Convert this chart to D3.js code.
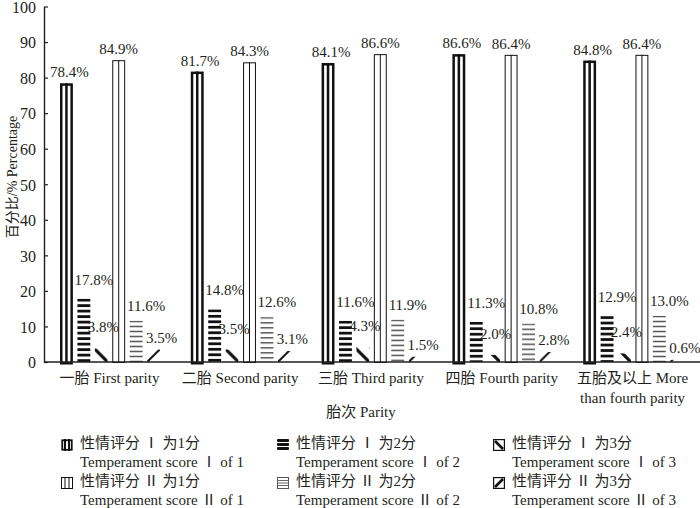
<!DOCTYPE html>
<html>
<head>
<meta charset="utf-8">
<script src="https://cdn.jsdelivr.net/npm/d3@7"></script>
<style>
body { margin: 0; background: #fff; }
svg text { font-family: "Liberation Serif", "Noto Sans CJK SC", serif; fill: #231f20; }
</style>
</head>
<body>
<svg id="chart" width="700" height="508"></svg>
<script>
// x categories, one entry per label line
const parityLabels = [
    ['一胎 First parity'],
    ['二胎 Second parity'],
    ['三胎 Third parity'],
    ['四胎 Fourth parity'],
    ['五胎及以上 More', 'than fourth parity']
];

// percentages per parity
const scoreI1 = [78.4, 81.7, 84.1, 86.6, 84.8];
const scoreI2 = [17.8, 14.8, 11.6, 11.3, 12.9];
const scoreI3 = [3.8, 3.5, 4.3, 2.0, 2.4];
const scoreII1 = [84.9, 84.3, 86.6, 86.4, 86.4];
const scoreII2 = [11.6, 12.6, 11.9, 10.8, 13.0];
const scoreII3 = [3.5, 3.1, 1.5, 2.8, 0.6];

const seriesZh = ['性情评分 Ⅰ 为1分', '性情评分 Ⅰ 为2分', '性情评分 Ⅰ 为3分',
    '性情评分 Ⅱ 为1分', '性情评分 Ⅱ 为2分', '性情评分 Ⅱ 为3分'];
const seriesEn = ['Temperament score Ⅰ of 1', 'Temperament score Ⅰ of 2', 'Temperament score Ⅰ of 3',
    'Temperament score Ⅱ of 1', 'Temperament score Ⅱ of 2', 'Temperament score Ⅱ of 3'];

const yTicks = [0, 10, 20, 30, 40, 50, 60, 70, 80, 90, 100];

// how each series is hatched
const styles = [
    { kind: 'v', w: 2.5 },
    { kind: 'h', w: 2.8, period: 5.5, color: '#111' },
    { kind: 'd', w: 3.2, dir: 'back' },
    { kind: 'v', w: 1 },
    { kind: 'h', w: 1.3, period: 5, color: '#3a3a3a' },
    { kind: 'd', w: 2, dir: 'fwd' }
];
const labelDx = [3, 10, 2, 0, 10, 8];
const labelDy = [-6, -14, -16, -6, -10, -7];

const series = [scoreI1, scoreI2, scoreI3, scoreII1, scoreII2, scoreII3];

const FONT = '"Liberation Serif", "Noto Sans CJK SC", serif';

const svg = d3.select('#chart').attr('font-family', FONT);
const defs = svg.append('defs');

const mLeft = 44, mRight = 698, mTop = 6.5, mBottom = 362;

const x0 = d3.scaleBand()
    .domain(parityLabels.map((d, i) => i))
    .range([mLeft, mRight]);

const x1 = d3.scaleBand()
    .domain(series.map((d, i) => i))
    .range([16, 116])
    .paddingInner(0.26)
    .paddingOuter(0);

const y = d3.scaleLinear()
    .domain([0, 100])
    .range([mBottom, mTop]);

const rows = [];
parityLabels.forEach((c, i) => {
    series.forEach((s, j) => {
        rows.push({ cat: i, ser: j, v: s[i] });
    });
});

const bw = x1.bandwidth();
const bx = d => x0(d.cat) + x1(d.ser);

// per-bar patterns so stripes start at the bar
rows.forEach((d, k) => {
    const st = styles[d.ser];
    if (st.kind === 'h') {
        const p = defs.append('pattern')
            .attr('id', 'pat' + k)
            .attr('patternUnits', 'userSpaceOnUse')
            .attr('x', bx(d)).attr('y', y(d.v))
            .attr('width', bw).attr('height', st.period);
        p.append('rect')
            .attr('x', 0).attr('y', 0)
            .attr('width', bw).attr('height', st.w)
            .attr('fill', st.color);
    } else if (st.kind === 'd') {
        const n = 16;
        const p = defs.append('pattern')
            .attr('id', 'pat' + k)
            .attr('patternUnits', 'userSpaceOnUse')
            .attr('width', n).attr('height', n);
        if (st.dir === 'back') {
            p.attr('x', bx(d) + bw - n).attr('y', mBottom - n);
            p.append('line').attr('x1', -2).attr('y1', -2).attr('x2', n + 2).attr('y2', n + 2);
        } else {
            p.attr('x', bx(d)).attr('y', mBottom - n);
            p.append('line').attr('x1', -2).attr('y1', n + 2).attr('x2', n + 2).attr('y2', -2);
        }
        p.select('line').attr('stroke', '#111').attr('stroke-width', st.w);
    }
});

const bars = svg.append('g');

rows.forEach((d, k) => {
    const st = styles[d.ser];
    const xx = bx(d), yy = y(d.v), h = y(0) - y(d.v);
    if (st.kind === 'v') {
        const s = st.w;
        bars.append('rect')
            .attr('x', xx + s / 2).attr('y', yy + s / 2)
            .attr('width', bw - s).attr('height', h)
            .attr('fill', '#fff').attr('stroke', '#111').attr('stroke-width', s);
        bars.append('line')
            .attr('x1', xx + bw / 2).attr('x2', xx + bw / 2)
            .attr('y1', yy).attr('y2', y(0))
            .attr('stroke', '#111').attr('stroke-width', s);
    } else {
        bars.append('rect')
            .attr('x', xx).attr('y', yy)
            .attr('width', bw).attr('height', h)
            .attr('fill', `url(#pat${k})`);
    }
});

// value labels
svg.append('g')
    .selectAll('text')
    .data(rows)
    .join('text')
    .attr('x', d => bx(d) + bw / 2 + labelDx[d.ser])
    .attr('y', d => y(d.v) + labelDy[d.ser])
    .attr('text-anchor', 'middle')
    .style('font-family', FONT)
    .style('font-size', '15px')
    .text(d => d.v.toFixed(1) + '%');

// y axis, ticks pointing in
const yAxis = d3.axisLeft(y)
    .tickValues(yTicks)
    .tickSizeInner(-4)
    .tickSizeOuter(0)
    .tickPadding(8);

const gy = svg.append('g')
    .attr('transform', `translate(${mLeft},0)`)
    .call(yAxis);
gy.select('.domain').attr('stroke', '#231f20').attr('stroke-width', 1.4);
gy.selectAll('.tick line').attr('stroke', '#231f20').attr('stroke-width', 1.2);
gy.selectAll('.tick text')
    .attr('dy', '0.36em')
    .style('font-size', '16px')
    .style('font-family', FONT)
    .attr('fill', '#231f20');

// x axis line
svg.append('line')
    .attr('x1', mLeft).attr('x2', 700)
    .attr('y1', y(0)).attr('y2', y(0))
    .attr('stroke', '#231f20').attr('stroke-width', 1.4);

const xl = svg.append('g')
    .selectAll('text')
    .data(parityLabels)
    .join('text')
    .attr('x', (d, i) => x0(i) + x0.bandwidth() / 2)
    .attr('y', 383)
    .attr('text-anchor', 'middle')
    .style('font-size', '15px');

xl.selectAll('tspan')
    .data(d => d)
    .join('tspan')
    .attr('x', function () { return d3.select(this.parentNode).attr('x'); })
    .attr('dy', (d, i) => i === 0 ? 0 : 20)
    .text(d => d);

// axis titles
svg.append('text')
    .attr('transform', 'translate(17,177) rotate(-90)')
    .attr('text-anchor', 'middle')
    .style('font-size', '14px')
    .text('百分比/% Percentage');

svg.append('text')
    .attr('x', 361).attr('y', 417)
    .attr('text-anchor', 'middle')
    .style('font-size', '15px')
    .text('胎次 Parity');

// legend
const colX = [80, 296, 512];
const rowY = [448, 486];

function drawSwatch(g, st, sz) {
    if (st.kind === 'v') {
        g.append('rect').attr('x', st.w / 2).attr('y', st.w / 2)
            .attr('width', sz - st.w).attr('height', sz - st.w)
            .attr('fill', '#fff').attr('stroke', '#111').attr('stroke-width', st.w > 2 ? 1.8 : 1);
        [sz / 3, 2 * sz / 3].forEach(px => {
            g.append('line').attr('x1', px).attr('x2', px).attr('y1', 0).attr('y2', sz)
                .attr('stroke', '#111').attr('stroke-width', st.w > 2 ? 2 : 1);
        });
    } else if (st.kind === 'h') {
        if (st.color === '#111') {
            [0, 4, 8].forEach(py => {
                g.append('rect').attr('x', 0).attr('y', py).attr('width', sz).attr('height', 3)
                    .attr('rx', 1).attr('fill', '#111');
            });
        } else {
            g.append('rect').attr('x', 0.5).attr('y', 0.5).attr('width', sz - 1).attr('height', sz - 1)
                .attr('fill', '#fff').attr('stroke', '#555').attr('stroke-width', 1);
            [3.5, 6, 8.5].forEach(py => {
                g.append('line').attr('x1', 0).attr('x2', sz).attr('y1', py).attr('y2', py)
                    .attr('stroke', '#666').attr('stroke-width', 1);
            });
        }
    } else {
        g.append('rect').attr('x', 0.6).attr('y', 0.6).attr('width', sz - 1.2).attr('height', sz - 1.2)
            .attr('fill', '#fff').attr('stroke', '#111').attr('stroke-width', 1.2);
        const l = g.append('line').attr('stroke', '#111').attr('stroke-width', 2.6);
        if (st.dir === 'back') {
            l.attr('x1', 2).attr('y1', 2).attr('x2', sz - 2).attr('y2', sz - 2);
        } else {
            l.attr('x1', 2).attr('y1', sz - 2).attr('x2', sz - 2).attr('y2', 2);
        }
    }
}

const lg = svg.append('g')
    .selectAll('g')
    .data(seriesZh)
    .join('g')
    .attr('transform', (d, i) => `translate(${colX[i % 3]},${rowY[Math.floor(i / 3)]})`);

lg.each(function (d, i) {
    const g = d3.select(this);
    const sw = g.append('g').attr('transform', 'translate(-19,-9)');
    drawSwatch(sw, styles[i], 12);
    g.append('text').attr('x', 0).attr('y', 0).style('font-size', '15px').text(d);
    g.append('text').attr('x', 0).attr('y', 18.5).style('font-size', '15px').text(seriesEn[i]);
});
</script>
</body>
</html>
